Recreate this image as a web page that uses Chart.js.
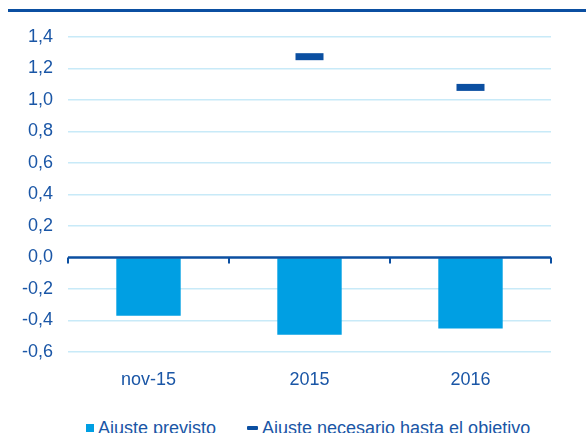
<!DOCTYPE html>
<html>
<head>
<meta charset="utf-8">
<script src="https://cdn.jsdelivr.net/npm/chart.js@4"></script>
<style>
  html, body { margin: 0; padding: 0; background: #fff; }
  #wrap { position: relative; width: 586px; height: 433px; overflow: hidden; font-family: "Liberation Sans", Arial, sans-serif; }
  #chartBox { position: absolute; left: 0; top: 0; width: 586px; height: 400px; }
  #topline { position: absolute; left: 8px; top: 9px; width: 578px; height: 3px; background: #0b4fa1; }
  .leg { position: absolute; top: 419px; font-size: 18px; line-height: 18px; color: #1a56a6; white-space: nowrap; }
  .sw { position: absolute; }
</style>
</head>
<body>
<div id="wrap">
  <div id="topline"></div>
  <div id="chartBox"><canvas id="c"></canvas></div>
  <div class="sw" style="left:86px;top:424px;width:8px;height:8px;background:#009fe3;"></div>
  <div class="leg" style="left:98px;">Ajuste previsto</div>
  <div class="sw" style="left:247px;top:426px;width:11px;height:4px;background:#0b4fa1;border-radius:1px;"></div>
  <div class="leg" style="left:262px;">Ajuste necesario hasta el objetivo</div>
</div>
<script>
const categories = ["nov-15", "2015", "2016"];
const ajustePrevisto = [-0.37, -0.49, -0.45];
const ajusteNecesario = [null, 1.275, 1.08];
const yTicks = [-0.6, -0.4, -0.2, 0.0, 0.2, 0.4, 0.6, 0.8, 1.0, 1.2, 1.4];

const LABEL = '#1a56a6';
const DARK = '#0b4fa1';
const BAR = '#009fe3';
const GRID = '#c8eaf8';

const zeroAxis = {
  id: 'zeroAxis',
  afterDatasetsDraw(chart) {
    const { ctx, chartArea, scales } = chart;
    const y0 = scales.y.getPixelForValue(0);
    ctx.save();
    ctx.strokeStyle = DARK;
    ctx.lineWidth = 2.5;
    ctx.beginPath();
    ctx.moveTo(chartArea.left, y0);
    ctx.lineTo(chartArea.right, y0);
    ctx.stroke();
    ctx.lineWidth = 2;
    const n = categories.length;
    for (let i = 0; i <= n; i++) {
      const x = chartArea.left + (chartArea.right - chartArea.left) * i / n;
      ctx.beginPath();
      ctx.moveTo(x, y0);
      ctx.lineTo(x, y0 + 6);
      ctx.stroke();
    }
    ctx.restore();
  }
};

new Chart(document.getElementById('c'), {
  data: {
    labels: categories,
    datasets: [
      {
        type: 'line',
        label: 'Ajuste necesario hasta el objetivo',
        data: ajusteNecesario,
        showLine: false,
        pointStyle: 'line',
        pointRadius: 14,
        pointHoverRadius: 14,
        pointBorderWidth: 7,
        pointHoverBorderWidth: 7,
        borderColor: DARK,
        backgroundColor: DARK,
        order: 0
      },
      {
        type: 'bar',
        label: 'Ajuste previsto',
        data: ajustePrevisto,
        backgroundColor: BAR,
        borderWidth: 0,
        barPercentage: 0.4,
        categoryPercentage: 1.0,
        order: 1
      }
    ]
  },
  options: {
    responsive: true,
    maintainAspectRatio: false,
    animation: false,
    devicePixelRatio: 1,
    layout: { padding: { left: 0, right: 35, top: 37, bottom: 0 } },
    plugins: { legend: { display: false }, tooltip: { enabled: false } },
    scales: {
      x: {
        grid: { display: false },
        border: { display: false },
        ticks: { color: LABEL, font: { family: '"Liberation Sans", Arial, sans-serif', size: 18 }, padding: 9, maxRotation: 0 },
        afterFit(s) { s.height = 48; }
      },
      y: {
        min: -0.6,
        max: 1.4,
        afterBuildTicks(s) { s.ticks = yTicks.map(v => ({ value: v })); },
        grid: {
          color: ctx => (ctx.tick && Math.abs(ctx.tick.value) < 1e-9) ? 'rgba(0,0,0,0)' : GRID,
          lineWidth: 1.5,
          drawTicks: false
        },
        border: { display: false },
        ticks: {
          color: LABEL,
          font: { family: '"Liberation Sans", Arial, sans-serif', size: 18 },
          padding: 15,
          callback: v => Number(v).toFixed(1).replace('.', ',')
        },
        afterFit(s) { s.width = 68; }
      }
    }
  },
  plugins: [zeroAxis]
});
</script>
</body>
</html>
